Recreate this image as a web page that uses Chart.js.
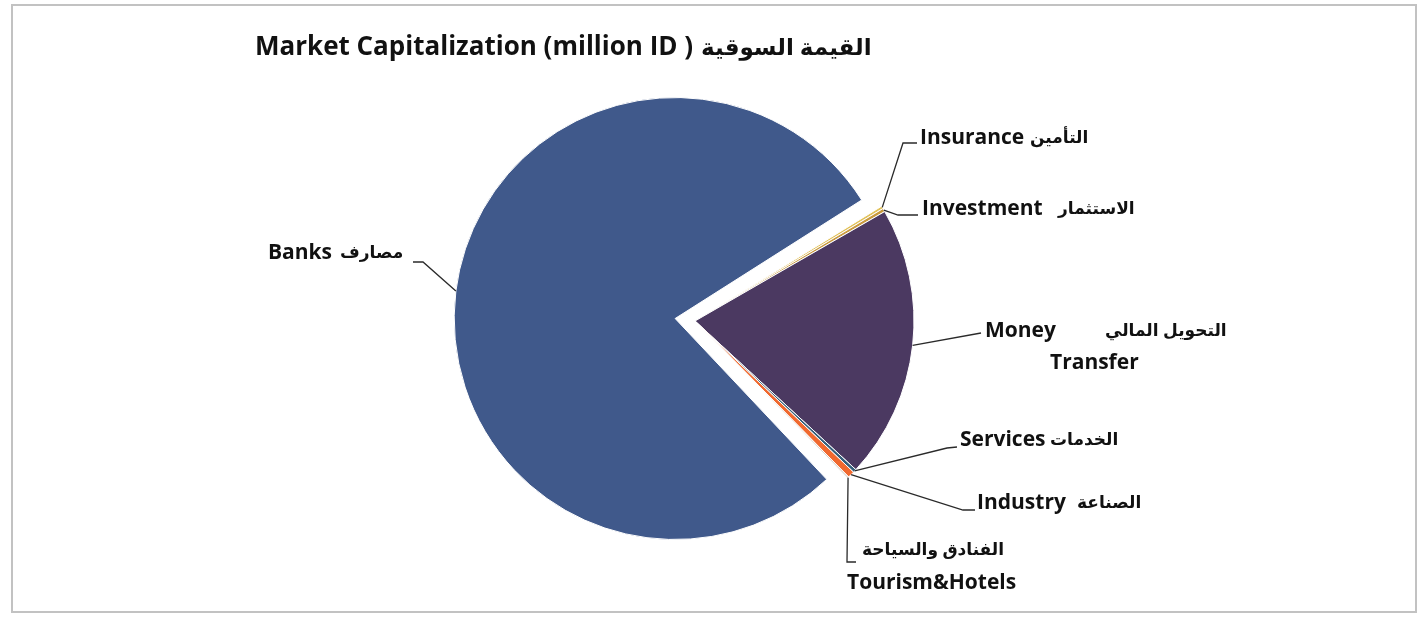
<!DOCTYPE html>
<html><head><meta charset="utf-8">
<script src="https://cdn.jsdelivr.net/npm/chart.js@4/dist/chart.umd.min.js"></script>
<style>html,body{margin:0;padding:0;background:#fff;} canvas{display:block}</style>
</head><body>
<canvas id="c" width="1427" height="621"></canvas>
<script>
// ---- data ----
const categories = ['Insurance', 'Investment', 'Money', 'Services', 'Industry', 'Tourism&Hotels', 'Banks'];
const categoriesAr = ['التأمين', 'الاستثمار', 'التحويل المالي', 'الخدمات', 'الصناعة', 'الفنادق والسياحة', 'مصارف'];
const extraLine = ['', '', 'Transfer', '', '', '', ''];
const marketCapShare = [0.2, 0.25, 20.2, 0.25, 0.5, 0.12, 78.48];
const titleEn = 'Market Capitalization (million ID )';
const titleAr = 'القيمة السوقية';

// ---- styles ----
const sliceColors = ['#e2c25a', '#c99a3e', '#4b3961', '#36607a', '#f0692f', '#d9cfc4', '#40598b'];
const sliceOffsets = [0, 0, 0, 0, 0, 0, 80];
const RADIUS = 219;
const FONT = '"Open Sans", "DejaVu Sans", sans-serif';

// label layout: anchor on arc mid-angle, then leader points, then text pieces
const labelLayout = [
  {i: 0, pts: [[903, 143], [917, 143]], texts: [[920, 138, 'en'], [1030, 138, 'ar']]},
  {i: 1, pts: [[898, 215], [918, 215]], texts: [[922, 209, 'en'], [1058, 209, 'ar']]},
  {i: 2, pts: [[981, 333]], texts: [[985, 331, 'en'], [1105, 331, 'ar'], [1050, 363, 'x']]},
  {i: 3, pts: [[947, 448], [957, 447]], texts: [[960, 440, 'en'], [1050, 440, 'ar']]},
  {i: 4, pts: [[963, 510], [975, 510]], texts: [[977, 503, 'en'], [1077, 503, 'ar']]},
  {i: 5, pts: [[847, 562], [856, 562]], texts: [[862, 550, 'ar'], [847, 583, 'en']]},
  {i: 6, pts: [[423, 262], [413, 262]], texts: [[268, 253, 'en'], [340, 253, 'ar']]}
];

function arcGeom(el, offsetOpt) {
  const p = el.getProps(['x', 'y', 'startAngle', 'endAngle', 'outerRadius'], true);
  const half = (p.startAngle + p.endAngle) / 2;
  const circ = p.endAngle - p.startAngle;
  const off = (offsetOpt || 0) / 4;
  const fix = 1 - Math.sin(Math.min(Math.PI, circ));
  return {half, cx: p.x + Math.cos(half) * off, cy: p.y + Math.sin(half) * off, r: p.outerRadius + off * fix};
}

const decor = {
  id: 'decor',
  afterDatasetsUpdate(chart) {
    // keep the exploded slice the same radius as the rest
    const meta = chart.getDatasetMeta(0);
    meta.data.forEach((el, i) => {
      const off = (sliceOffsets[i] || 0) / 4;
      if (off) el.outerRadius = RADIUS + 2 - off;
    });
  },
  beforeDraw(chart) {
    const ctx = chart.ctx;
    ctx.save();
    ctx.fillStyle = '#ffffff';
    ctx.fillRect(0, 0, chart.width, chart.height);
    ctx.strokeStyle = '#c2c2c2';
    ctx.lineWidth = 2;
    ctx.strokeRect(12, 5, 1404, 607);
    ctx.restore();
  },
  afterDraw(chart) {
    const ctx = chart.ctx;
    const meta = chart.getDatasetMeta(0);
    ctx.save();
    // title
    ctx.fillStyle = '#111';
    ctx.textBaseline = 'middle';
    ctx.textAlign = 'left';
    ctx.font = 'bold 26px ' + FONT;
    ctx.fillText(titleEn, 255, 48);
    const w = ctx.measureText(titleEn).width;
    ctx.font = 'bold 23px ' + FONT;
    ctx.fillText(titleAr, 255 + w + 8, 48);
    // labels
    ctx.strokeStyle = '#2a2a2a';
    ctx.lineWidth = 1.3;
    labelLayout.forEach(L => {
      const g = arcGeom(meta.data[L.i], sliceOffsets[L.i]);
      const ax = g.cx + Math.cos(g.half) * g.r;
      const ay = g.cy + Math.sin(g.half) * g.r;
      ctx.beginPath();
      ctx.moveTo(ax, ay);
      L.pts.forEach(q => ctx.lineTo(q[0], q[1]));
      ctx.stroke();
      L.texts.forEach(tx => {
        const s = tx[2] === 'en' ? categories[L.i] : tx[2] === 'ar' ? categoriesAr[L.i] : extraLine[L.i];
        ctx.font = (tx[2] === 'ar' ? 'bold 17px ' : 'bold 21px ') + FONT;
        ctx.fillText(s, tx[0], tx[1]);
      });
    });
    ctx.restore();
  }
};

new Chart(document.getElementById('c'), {
  type: 'pie',
  data: {
    labels: categories,
    datasets: [{
      data: marketCapShare,
      backgroundColor: sliceColors,
      borderColor: '#ffffff',
      borderWidth: 1,
      offset: sliceOffsets,
      hoverOffset: 0
    }]
  },
  options: {
    responsive: false,
    animation: false,
    rotation: 58.4,
    radius: RADIUS,
    layout: {padding: {left: 475, right: 512, top: 101, bottom: 80}},
    plugins: {legend: {display: false}, title: {display: false}, tooltip: {enabled: false}}
  },
  plugins: [decor]
});
</script>
</body></html>
